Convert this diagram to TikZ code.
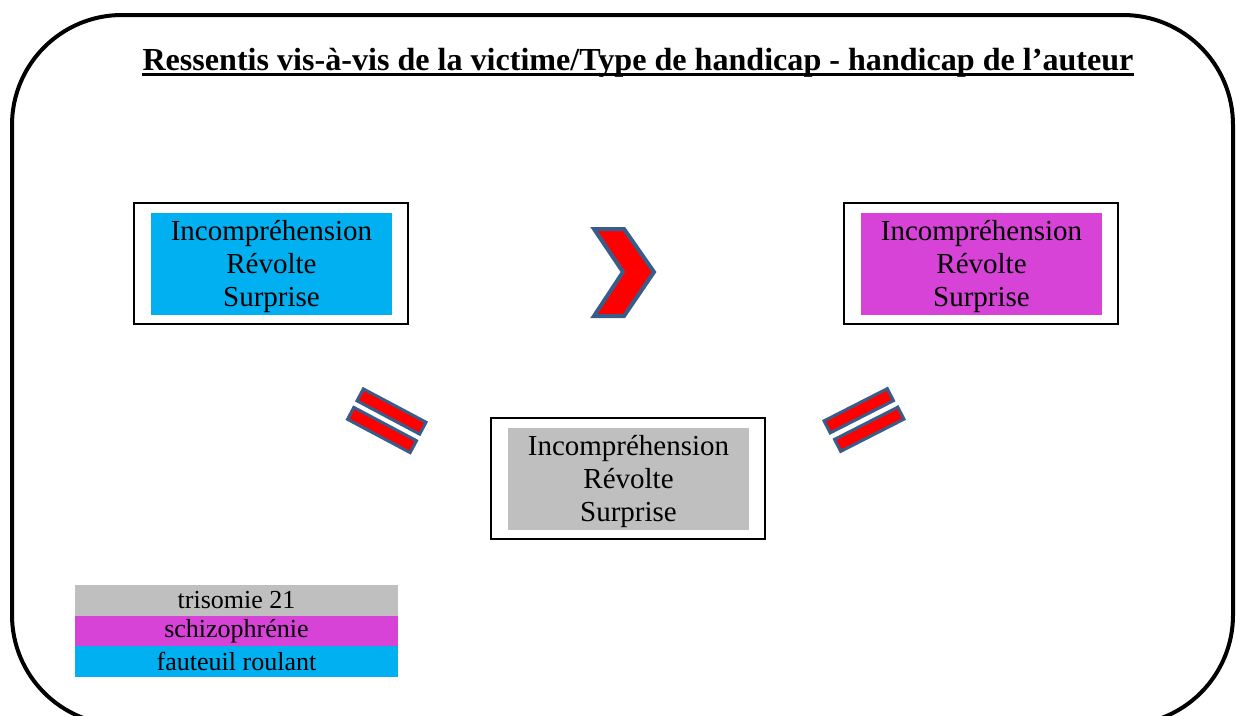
\documentclass[tikz,border=0pt]{standalone}
\usepackage{fontspec}
\setmainfont{Liberation Serif}
\definecolor{cblue}{RGB}{0,176,240}
\definecolor{cmag}{RGB}{214,67,214}
\definecolor{cgray}{RGB}{191,191,191}
\definecolor{outl}{RGB}{56,93,138}
\definecolor{cred}{RGB}{255,0,0}
\newcommand{\boxtext}{\raisebox{-2.5pt}[\height][\depth]{\parbox{241pt}{\centering Incompréhension\\Révolte\\Surprise}}}
\tikzset{
  outerbox/.style={draw=black, line width=2pt, minimum width=274pt, minimum height=121pt, inner sep=0pt},
  innerbox/.style={minimum width=241pt, minimum height=102pt, inner sep=0pt, align=center, font=\fontsize{29}{33}\selectfont},
  legrow/.style={minimum width=323pt, minimum height=31pt, inner sep=0pt, font=\fontsize{26}{30}\selectfont},
  eqbar/.style={draw=outl, fill=cred, line width=3pt, minimum width=71pt, minimum height=13.5pt, inner sep=0pt},
  chev/.style={draw=outl, fill=cred, line width=4pt, line join=miter},
  frame/.style={draw=black, line width=4pt, rounded corners=110pt}
}
\begin{document}
\begin{tikzpicture}[x=1pt,y=-1pt]
\useasboundingbox (0,0) rectangle (1236,715);
\clip (0,0) rectangle (1236,715);
\path[frame] (12,15) rectangle (1233,725);
% title
\node[font=\fontsize{32.1}{36}\selectfont\bfseries, anchor=base, inner sep=0pt] (title) at (638,70) {Ressentis vis-à-vis de la victime/Type de handicap - handicap de l’auteur};
\draw[line width=2.8pt] ([yshift=-4.5pt]title.base west) -- ([yshift=-4.5pt]title.base east);
% boxes
\node[outerbox] (leftout) at (270.5,263.5) {};
\node[innerbox, fill=cblue] (left) at (271.5,264) {\boxtext};
\node[outerbox] (rightout) at (981,263.5) {};
\node[innerbox, fill=cmag] (right) at (981.5,264) {\boxtext};
\node[outerbox] (botout) at (628,478.5) {};
\node[innerbox, fill=cgray] (bot) at (628.5,479) {\boxtext};
% chevron
\path[chev] (594,229) -- (624,229) -- (654,272) -- (624,316) -- (594,316) -- (623,272) -- cycle;
% equal signs
\node[eqbar, rotate=-28] (eqL1) at (391.5,411.5) {};
\node[eqbar, rotate=-28] (eqL2) at (382,430) {};
\node[eqbar, rotate=27] (eqR1) at (858.75,410.75) {};
\node[eqbar, rotate=27] (eqR2) at (869.25,429.25) {};
% legend
\node[legrow, fill=cgray] (leg1) at (236.5,600.5) {trisomie 21};
\node[legrow, fill=cmag] (leg2) at (236.5,631) {schizophrénie};
\node[legrow, fill=cblue] (leg3) at (236.5,661.5) {fauteuil roulant};
\end{tikzpicture}
\end{document}
